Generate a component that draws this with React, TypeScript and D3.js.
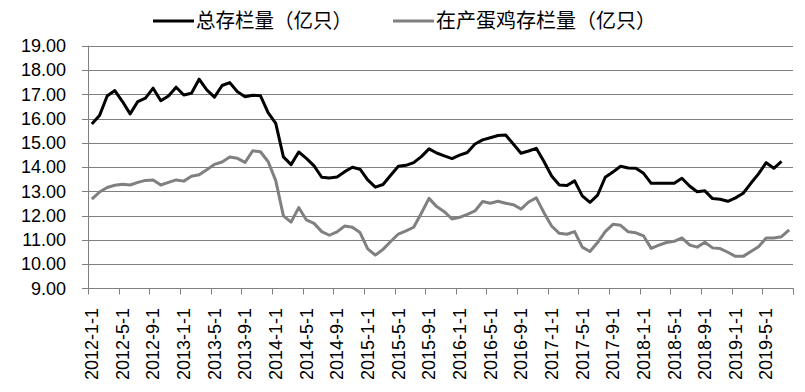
import React, { useEffect, useRef } from 'react';
import * as d3 from 'd3';

// monthly categories, 2012-01 .. 2019-08
const months = d3.timeMonth.range(new Date(2012, 0, 1), new Date(2019, 8, 1)).map(d => d3.timeFormat('%Y-%-m-%-d')(d));

const tickLabels = [
  '2012-1-1', '2012-5-1', '2012-9-1', '2013-1-1', '2013-5-1', '2013-9-1',
  '2014-1-1', '2014-5-1', '2014-9-1', '2015-1-1', '2015-5-1', '2015-9-1',
  '2016-1-1', '2016-5-1', '2016-9-1', '2017-1-1', '2017-5-1', '2017-9-1',
  '2018-1-1', '2018-5-1', '2018-9-1', '2019-1-1', '2019-5-1',
];

const yTicks = [9, 10, 11, 12, 13, 14, 15, 16, 17, 18, 19];

// 总存栏量（亿只）
const totalStock = [
  15.77, 16.12, 16.93, 17.15, 16.7, 16.19, 16.7, 16.84, 17.25, 16.73, 16.93, 17.29,
  16.97, 17.04, 17.62, 17.18, 16.88, 17.36, 17.48, 17.1, 16.9, 16.96, 16.94, 16.24,
  15.8, 14.42, 14.1, 14.62, 14.36, 14.05, 13.58, 13.55, 13.59, 13.81, 13.99, 13.91,
  13.47, 13.17, 13.28, 13.66, 14.03, 14.07, 14.18, 14.43, 14.75, 14.58, 14.46, 14.35,
  14.49, 14.6, 14.95, 15.12, 15.21, 15.3, 15.32, 14.95, 14.57, 14.66, 14.77, 14.23,
  13.63, 13.26, 13.24, 13.43, 12.81, 12.54, 12.84, 13.58, 13.8, 14.03, 13.96, 13.95,
  13.74, 13.33, 13.33, 13.33, 13.33, 13.54, 13.22, 12.98, 13.02, 12.7, 12.67, 12.59,
  12.73, 12.92, 13.33, 13.72, 14.18, 13.95, 14.23,
];

// 在产蛋鸡存栏量（亿只）
const layerStock = [
  12.68, 12.97, 13.16, 13.25, 13.29, 13.26, 13.37, 13.45, 13.47, 13.26, 13.37, 13.47,
  13.42, 13.62, 13.68, 13.89, 14.11, 14.21, 14.41, 14.36, 14.19, 14.67, 14.63, 14.23,
  13.44, 11.99, 11.73, 12.33, 11.82, 11.68, 11.34, 11.19, 11.33, 11.57, 11.52, 11.3,
  10.63, 10.37, 10.61, 10.93, 11.24, 11.37, 11.52, 12.1, 12.71, 12.37, 12.16, 11.86,
  11.93, 12.05, 12.19, 12.58, 12.51, 12.59, 12.51, 12.45, 12.27, 12.56, 12.73, 12.12,
  11.57, 11.27, 11.23, 11.34, 10.7, 10.52, 10.89, 11.34, 11.64, 11.6, 11.33, 11.29,
  11.16, 10.65, 10.78, 10.89, 10.94, 11.08, 10.79, 10.7, 10.9, 10.67, 10.64, 10.49,
  10.32, 10.32, 10.52, 10.72, 11.08, 11.08, 11.13, 11.41,
];

const series = [
  { name: '总存栏量（亿只）', values: totalStock, color: '#000000', lx: 153, tw: 156 },
  { name: '在产蛋鸡存栏量（亿只）', values: layerStock, color: '#808080', lx: 393, tw: 220 },
];

const App = () => {
  const ref = useRef(null);

  useEffect(() => {
    if (!ref.current) return;
    const width = 805;
    const height = 392;
    const left = 88, right = 793, top = 45.7, bottom = 288.4;
    const font = '"Liberation Sans", Arial, "Noto Sans CJK SC", sans-serif';

    const svg = d3.select(ref.current);
    svg.selectAll('*').remove();
    svg.attr('width', width).attr('height', height);

    const x = d3.scaleBand().domain(months).range([left, right]).padding(0);
    const y = d3.scaleLinear().domain([9, 19]).range([bottom, top]);
    const cx = (i: number) => (x(months[i]) as number) + x.bandwidth() / 2;

    // gridlines
    svg.append('g')
      .selectAll('line')
      .data(yTicks)
      .enter().append('line')
        .attr('x1', left - 6)
        .attr('x2', right)
        .attr('y1', d => Math.round(y(d)) + 0.5)
        .attr('y2', d => Math.round(y(d)) + 0.5)
        .attr('stroke', '#808080')
        .attr('stroke-width', 1);

    // y axis line
    svg.append('line')
      .attr('x1', left + 0.5).attr('x2', left + 0.5)
      .attr('y1', top).attr('y2', bottom)
      .attr('stroke', '#808080');

    // y labels
    svg.append('g')
      .selectAll('text')
      .data(yTicks)
      .enter().append('text')
        .attr('x', 66)
        .attr('y', d => y(d))
        .attr('dy', '0.35em')
        .attr('text-anchor', 'end')
        .style('font-family', font)
        .style('font-size', '18px')
        .style('fill', '#000')
        .text(d => d.toFixed(2));

    // x tick marks at band edges every 4 months
    const tickIdx = d3.range(0, months.length + 1, 4).concat([months.length]);
    svg.append('g')
      .selectAll('line')
      .data(tickIdx)
      .enter().append('line')
        .attr('x1', d => Math.round(left + d * x.bandwidth()) + 0.5)
        .attr('x2', d => Math.round(left + d * x.bandwidth()) + 0.5)
        .attr('y1', bottom)
        .attr('y2', bottom + 6)
        .attr('stroke', '#808080');

    // x labels
    svg.append('g')
      .selectAll('text')
      .data(tickLabels)
      .enter().append('text')
        .attr('transform', d => `translate(${cx(months.indexOf(d))}, 308) rotate(-90)`)
        .attr('dy', '0.35em')
        .attr('text-anchor', 'end')
        .style('font-family', font)
        .style('font-size', '18px')
        .style('fill', '#000')
        .text(d => d);

    // lines
    const line = d3.line<number>()
      .x((d, i) => cx(i))
      .y(d => y(d));

    svg.append('g')
      .selectAll('path')
      .data(series.slice().reverse())
      .enter().append('path')
        .attr('d', d => line(d.values))
        .attr('fill', 'none')
        .attr('stroke', d => d.color)
        .attr('stroke-width', 3)
        .attr('stroke-linejoin', 'round');

    // Legend
    const legend = svg.selectAll('.legend')
      .data(series)
      .enter().append('g')
        .attr('class', 'legend')
        .attr('transform', d => `translate(${d.lx}, 21)`);

    legend.append('line')
      .attr('x1', 0).attr('x2', 41)
      .attr('y1', 0).attr('y2', 0)
      .attr('stroke', d => d.color)
      .attr('stroke-width', 3);

    legend.append('text')
      .attr('x', 43)
      .attr('y', 0)
      .attr('dy', '0.36em')
      .attr('textLength', d => d.tw)
      .attr('lengthAdjust', 'spacingAndGlyphs')
      .style('font-family', '"Noto Sans CJK SC", sans-serif')
      .style('font-size', '20px')
      .style('fill', '#000')
      .text(d => d.name);
  }, []);

  return (
    <svg
      ref={ref}
      style={{ position: 'absolute', left: 0, top: 0, display: 'block', background: '#fff' }}
    />
  );
};

export default App;
